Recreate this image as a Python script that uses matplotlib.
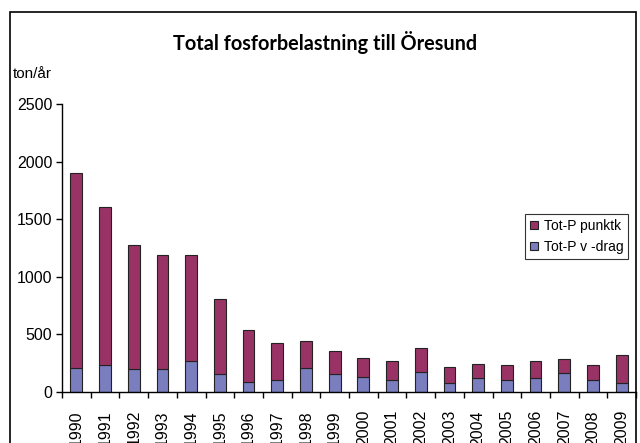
import numpy as np
import matplotlib as mpl
mpl.use('Agg')
import matplotlib.pyplot as plt
from matplotlib.patches import Rectangle

# data (ton/år)
years = [str(y) for y in range(1990, 2010)]
vdrag = [206, 235, 197, 197, 270, 154, 90, 102, 206, 154,
         133, 102, 174, 81, 125, 102, 125, 162, 102, 81]
totals = [1905, 1607, 1279, 1186, 1186, 803, 537, 423, 444, 354,
          299, 270, 383, 218, 241, 238, 270, 290, 238, 322]
punktk = [t - v for t, v in zip(totals, vdrag)]

purple = '#993366'
blue = '#7a7ebf'

plt.rcParams['font.family'] = ['Liberation Sans', 'DejaVu Sans']

fig = plt.figure(figsize=(6.4, 4.43), dpi=100)

# chart border (bottom runs off the image)
fig.patches.append(Rectangle((10/640, -0.2), 626/640, 1.2 - 12/443, transform=fig.transFigure,
                             fill=False, edgecolor='black', linewidth=1.2, zorder=0))

ax = fig.add_axes([62/640, 1 - 392/443, (636 - 62)/640, (392 - 104)/443])

x = np.arange(len(years))
ax.bar(x, vdrag, width=0.41, color=blue, edgecolor='#222222', linewidth=0.8, label='Tot-P v -drag')
ax.bar(x, punktk, width=0.41, bottom=vdrag, color=purple, edgecolor='#222222', linewidth=0.8,
       label='Tot-P punktk')

ax.set_xlim(-0.5, len(years) - 0.5)
ax.set_ylim(0, 2500)
ax.set_yticks(range(0, 2501, 500))
ax.set_xticks(x)
ax.set_xticklabels(years, rotation=90, fontsize=11.5)
ax.tick_params(axis='x', length=0, pad=13)
ax.set_xticks(np.arange(-0.5, len(years), 1), minor=True)
ax.tick_params(axis='x', which='minor', length=4, width=1, direction='out')
ax.tick_params(axis='y', labelsize=11.5, length=4, width=1, direction='out', pad=3)

for s in ['top', 'right']:
    ax.spines[s].set_visible(False)
for s in ['left', 'bottom']:
    ax.spines[s].set_linewidth(1)

handles, labels = ax.get_legend_handles_labels()
leg = ax.legend(handles[::-1], labels[::-1], loc='upper left',
                bbox_to_anchor=((525 - 62) / 574, (392 - 214) / 288),
                fontsize=10, frameon=True, fancybox=False, edgecolor='black',
                handlelength=0.6, handleheight=0.6, handletextpad=0.4, borderpad=0.35,
                labelspacing=0.5, borderaxespad=0)
leg.get_frame().set_linewidth(0.8)

fig.text(325/640, 1 - 42/443, 'Total fosforbelastning till Öresund', ha='center', va='center',
         fontsize=14.3, fontweight='bold', family=['Lato', 'DejaVu Sans'])
fig.text(13/640, 1 - 74/443, 'ton/år', ha='left', va='center', fontsize=11)

fig.savefig('out.png', dpi=100)
